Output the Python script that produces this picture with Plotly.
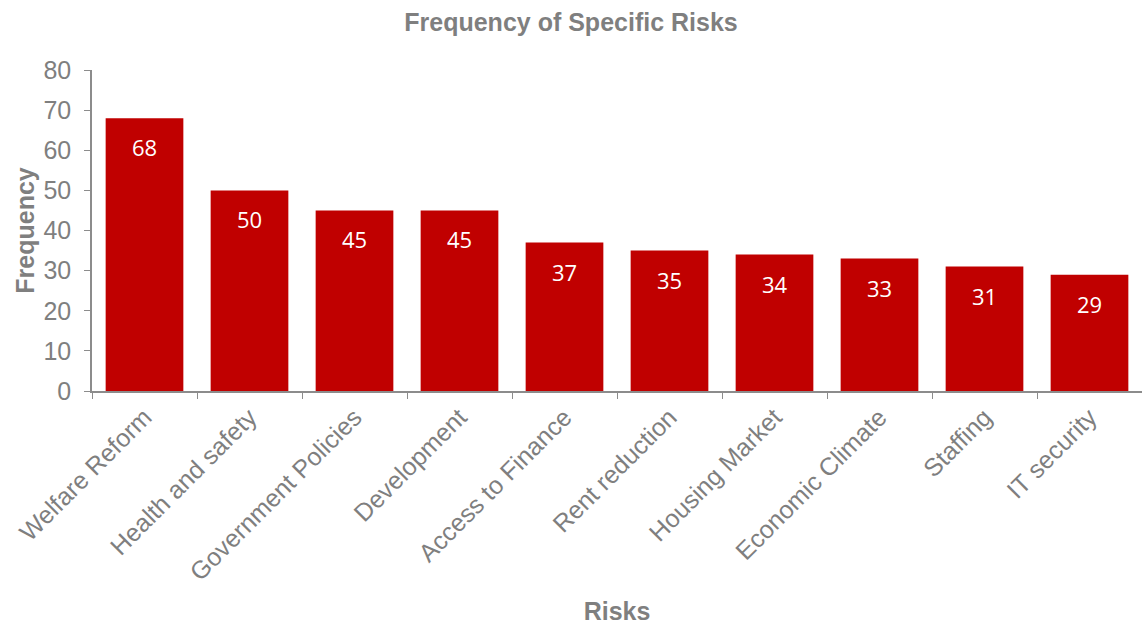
import plotly.graph_objects as go

categories = ["Welfare Reform", "Health and safety", "Government Policies", "Development",
              "Access to Finance", "Rent reduction", "Housing Market", "Economic Climate",
              "Staffing", "IT security"]
values = [68, 50, 45, 45, 37, 35, 34, 33, 31, 29]
y_ticks = [0, 10, 20, 30, 40, 50, 60, 70, 80]

grey = "#7f7f7f"
axis_grey = "#8c8c8c"

fig = go.Figure()
fig.add_trace(go.Bar(x=categories, y=values, marker=dict(color="#C00000", line=dict(width=0)),
                     hoverinfo="x+y"))

for c, v in zip(categories, values):
    fig.add_annotation(x=c, y=v, yshift=-29, text=str(v), showarrow=False,
                       font=dict(family="Open Sans, Liberation Sans", size=22, color="white"))

fig.update_layout(
    width=1142, height=625,
    margin=dict(l=92, r=0, t=70, b=234),
    paper_bgcolor="white", plot_bgcolor="white",
    bargap=0.26,
    showlegend=False,
    title=dict(text="<b>Frequency of Specific Risks</b>", x=0.5, xanchor="center",
               y=1 - 22 / 625, yanchor="middle", xref="container",
               font=dict(family="Liberation Sans, Arial", size=25, color=grey)),
    font=dict(family="Liberation Sans, Arial", color=grey),
)
fig.update_xaxes(
    tickangle=-45, tickfont=dict(size=25, color=grey),
    showline=True, linecolor=axis_grey, linewidth=1.5,
    ticks="outside", ticklen=6, tickcolor=axis_grey, tickson="boundaries",
    showgrid=False,
    title=dict(text="<b>Risks</b>", font=dict(size=25, color=grey), standoff=21),
)
fig.update_yaxes(
    range=[0, 80], tickvals=y_ticks, tickfont=dict(size=25, color=grey),
    showline=True, linecolor=axis_grey, linewidth=1.5,
    ticks="outside", ticklen=6, tickcolor=axis_grey, ticklabelstandoff=8,
    showgrid=False, zeroline=False,
    title=dict(text="<b>Frequency</b>", font=dict(size=25, color=grey), standoff=2),
)

fig.write_html("out.html")
